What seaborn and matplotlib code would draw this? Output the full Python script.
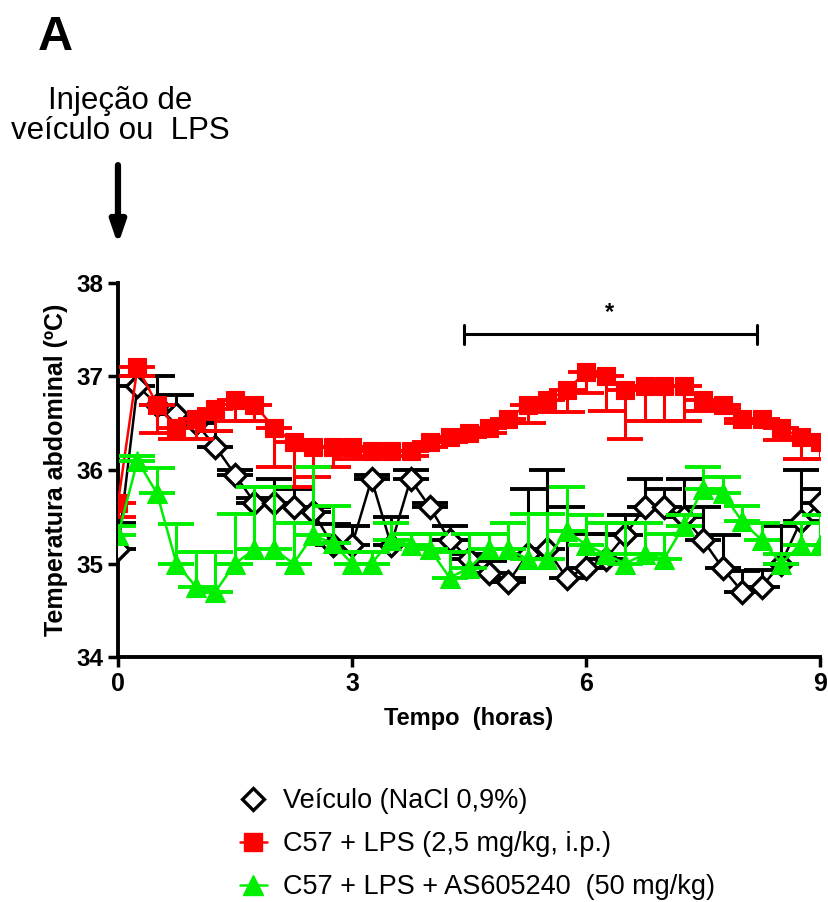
import numpy as np
import pandas as pd
import matplotlib
matplotlib.use("Agg")
import matplotlib.pyplot as plt
import seaborn as sns
from matplotlib.lines import Line2D

time_h = [i * 0.25 for i in range(37)]

veiculo = [35.15, 36.9, 36.7, 36.6, 36.5, 36.25, 35.95, 35.65, 35.65, 35.6, 35.55, 35.2,
           35.2, 35.9, 35.2, 35.9, 35.6, 35.25, 35.05, 34.9, 34.8, 35.1, 35.15, 34.85,
           34.95, 35.05, 35.3, 35.6, 35.6, 35.5, 35.25, 34.95, 34.7, 34.75, 35.0, 35.45, 35.65]
veiculo_sem = [0.28, 0.1, 0.3, 0.2, 0.05, 0.17, 0.05, 0.05, 0.25, 0.2, 0.05, 0.22,
               0.2, 0.05, 0.3, 0.1, 0.05, 0.15, 0.05, 0.13, 0.05, 0.7, 0.85, 0.75,
               0.37, 0.27, 0.22, 0.3, 0.2, 0.4, 0.35, 0.35, 0.22, 0.18, 0.4, 0.55, 0.15]

lps = [35.65, 37.1, 36.7, 36.45, 36.55, 36.65, 36.75, 36.7, 36.45, 36.3, 36.25, 36.25,
       36.25, 36.2, 36.2, 36.2, 36.3, 36.35, 36.4, 36.45, 36.55, 36.7, 36.75, 36.85,
       37.05, 37.0, 36.85, 36.9, 36.9, 36.9, 36.75, 36.7, 36.55, 36.55, 36.45, 36.35, 36.3]
lps_sem = [0.15, 0.1, 0.3, 0.12, 0.22, 0.23, 0.23, 0.18, 0.42, 0.48, 0.33, 0.22,
           0.13, 0.05, 0.05, 0.05, 0.05, 0.05, 0.05, 0.05, 0.05, 0.2, 0.13, 0.23,
           0.23, 0.37, 0.52, 0.38, 0.38, 0.38, 0.12, 0.05, 0.05, 0.05, 0.13, 0.23, 0.18]

as605 = [35.3, 36.1, 35.75, 35.0, 34.75, 34.7, 35.0, 35.15, 35.15, 35.0, 35.3, 35.22,
         35.0, 35.0, 35.25, 35.2, 35.15, 34.85, 34.95, 35.15, 35.15, 35.05, 35.05, 35.35,
         35.2, 35.1, 35.0, 35.1, 35.05, 35.4, 35.8, 35.75, 35.45, 35.25, 35.0, 35.2, 35.2]
as605_sem = [0.1, 0.05, 0.27, 0.42, 0.37, 0.42, 0.53, 0.67, 0.67, 0.43, 0.73, 0.4,
             0.12, 0.12, 0.18, 0.12, 0.17, 0.27, 0.37, 0.17, 0.28, 0.48, 0.48, 0.47,
             0.32, 0.33, 0.43, 0.33, 0.27, 0.12, 0.23, 0.17, 0.17, 0.18, 0.1, 0.23, 0.32]

labels = ["Veículo (NaCl 0,9%)", "C57 + LPS (2,5 mg/kg, i.p.)",
          "C57 + LPS + AS605240  (50 mg/kg)"]
x_ticks = [0, 3, 6, 9]
y_ticks = [34, 35, 36, 37, 38]

sns.set_style("ticks")
plt.rcParams['font.family'] = ['Liberation Sans', 'DejaVu Sans']
for k in ["text.color", "axes.labelcolor", "xtick.color", "ytick.color", "axes.edgecolor"]:
    plt.rcParams[k] = "black"

NARROW = ['Liberation Sans Narrow', 'Liberation Sans', 'DejaVu Sans']

fig = plt.figure(figsize=(8.29, 9.02), dpi=100)
ax = fig.add_axes([0.1423, 0.2716, 0.847, 0.4147])

red = "#ff0000"
green = "#00ee00"
black = "#000000"

def draw(y, sem, color, marker, mfc, ms, direction, z):
    y = np.array(y); sem = np.array(sem)
    if direction == "up":
        yerr = [np.zeros_like(sem), sem]
    else:
        yerr = [sem, np.zeros_like(sem)]
    ax.errorbar(time_h, y, yerr=yerr, fmt="none", ecolor=color, elinewidth=2.2,
                capsize=13, capthick=2.8, zorder=z)
    df = pd.DataFrame({"t": time_h, "v": y})
    sns.lineplot(data=df, x="t", y="v", ax=ax, color=color, linewidth=1.8,
                 marker=marker, markersize=ms, markerfacecolor=mfc,
                 markeredgecolor=color, markeredgewidth=2.4 if mfc == "white" else 0.8,
                 zorder=z + 0.5)

draw(veiculo, veiculo_sem, black, "D", "white", 11, "up", 3)
draw(lps, lps_sem, red, "s", red, 13.5, "down", 4)
draw(as605, as605_sem, green, "^", green, 14, "up", 5)

ax.set_xlim(0, 9)
ax.set_ylim(34, 38)
ax.set_xticks(x_ticks)
ax.set_yticks(y_ticks)
ax.tick_params(axis="both", width=2.5, length=7)
for lab in ax.get_yticklabels():
    lab.set_fontweight("bold")
    lab.set_fontsize(17.5)
for lab in ax.get_xticklabels():
    lab.set_fontweight("bold")
    lab.set_fontsize(18)
    lab.set_family(NARROW)
for s in ["left", "bottom"]:
    ax.spines[s].set_linewidth(2.8)
sns.despine(ax=ax)
ax.set_xlabel("Tempo  (horas)", fontsize=17, fontweight="bold", labelpad=8,
              family=NARROW)
ax.set_ylabel("Temperatura abdominal (ºC)", fontsize=18, fontweight="bold", labelpad=6)

# significance bracket
ax.plot([4.44, 8.19], [37.45, 37.45], color="black", lw=2.2, clip_on=False)
ax.plot([4.44, 4.44], [37.35, 37.55], color="black", lw=2.2, clip_on=False)
ax.plot([8.19, 8.19], [37.35, 37.55], color="black", lw=2.2, clip_on=False)
ax.text(6.3, 37.68, "*", ha="center", va="center", fontsize=17, fontweight="bold")

# panel letter and injection annotation
fig.text(0.045, 0.958, "A", fontsize=35, fontweight="bold", va="center", ha="left")
fig.text(0.145, 0.871, "Injeção de\nveículo ou  LPS", fontsize=22.5, ha="center",
         va="center", linespacing=1.0)
ax.annotate("", xy=(0, 38.41), xytext=(0, 39.26), xycoords="data",
            arrowprops=dict(arrowstyle="-|>,head_width=0.45,head_length=1.3",
                            lw=4.5, color="black", shrinkA=0, shrinkB=0),
            annotation_clip=False)

handles = [
    Line2D([], [], color=black, marker="D", markersize=11, markerfacecolor="white",
           markeredgewidth=2.4, linestyle="none"),
    Line2D([], [], color=red, marker="s", markersize=13, linewidth=1.8),
    Line2D([], [], color=green, marker="^", markersize=14, linewidth=1.8),
]
fig.legend(handles, labels, loc="upper left", bbox_to_anchor=(0.276, 0.138),
           frameon=False, fontsize=19.5, handlelength=1.0, handletextpad=0.6,
           labelspacing=0.63, borderaxespad=0)

fig.savefig("out.png", dpi=100)
